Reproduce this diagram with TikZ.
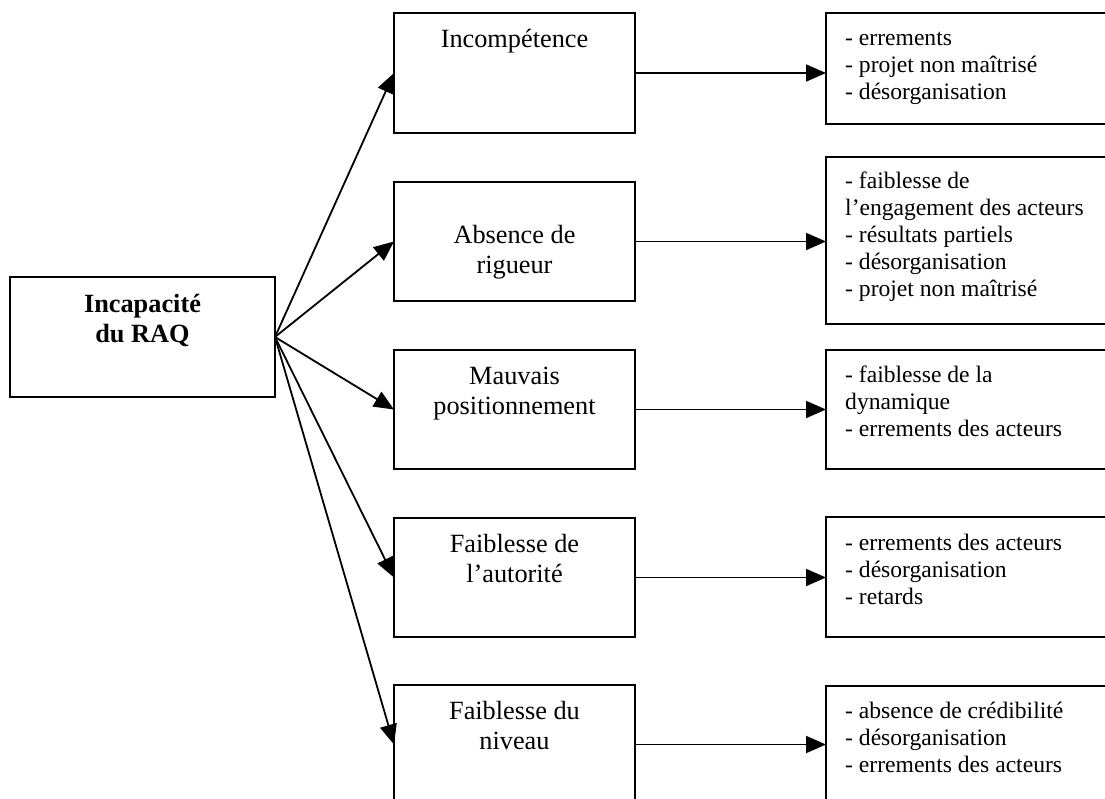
\documentclass[tikz,border=0pt]{standalone}
\usepackage{fontspec}
\setmainfont{Liberation Serif}
\usetikzlibrary{arrows.meta,fit}
% stacked lines whose baseline is the first line
\newcommand\txtlines[2][c]{\begin{tabular}[t]{@{}#1@{}}#2\end{tabular}}
\begin{document}
\begin{tikzpicture}[x=1pt,y=-1pt,
  box/.style={draw, line width=1.8pt, inner sep=0pt, outer sep=0pt},
  arr/.style={line width=1.8pt, -{Triangle[length=20pt,width=17pt]}},
  mtext/.style={anchor=base, inner sep=0pt, font=\fontsize{26.3}{30}\selectfont},
  ltext/.style={anchor=base, inner sep=0pt, font=\fontsize{26.3}{30}\selectfont\bfseries},
  rtext/.style={anchor=base west, inner sep=0pt, font=\fontsize{23.6}{27}\selectfont}]
\useasboundingbox (0,0) rectangle (1105,798);
\fill[white] (0,0) rectangle (1105,798);
\clip (0,0) rectangle (1105,798);

% root box
\node[box, fit={(10,277) (275,397)}] (L) {};
\node[ltext, yshift=-35pt] (Lt) at (L.north) {\txtlines{Incapacité\\du RAQ}};

% causes
\node[box, fit={(394,13) (635,133)}]  (m1) {};
\node[box, fit={(394,182) (635,301)}] (m2) {};
\node[box, fit={(394,350) (635,469)}] (m3) {};
\node[box, fit={(394,518) (635,637)}] (m4) {};
\node[box, fit={(394,685) (635,804)}] (m5) {};

\node[mtext, yshift=-34.5pt] (t1) at (m1.north) {\txtlines{Incompétence}};
\node[mtext, yshift=-61pt]   (t2) at (m2.north) {\txtlines{Absence de\\rigueur}};
\node[mtext, yshift=-34.5pt] (t3) at (m3.north) {\txtlines{Mauvais\\positionnement}};
\node[mtext, yshift=-34.5pt] (t4) at (m4.north) {\txtlines{Faiblesse de\\l’autorité}};
\node[mtext, yshift=-34.5pt] (t5) at (m5.north) {\txtlines{Faiblesse du\\niveau}};

% consequences
\node[box, fit={(826,13) (1200,124)}]  (r1) {};
\node[box, fit={(826,157) (1200,324)}] (r2) {};
\node[box, fit={(826,350) (1200,469)}] (r3) {};
\node[box, fit={(826,517) (1200,637)}] (r4) {};
\node[box, fit={(826,686) (1200,820)}] (r5) {};

\node[rtext, xshift=19pt, yshift=-32pt] (u1) at (r1.north west)
  {\txtlines[l]{- errements\\- projet non maîtrisé\\- désorganisation}};
\node[rtext, xshift=19pt, yshift=-31pt] (u2) at (r2.north west)
  {\txtlines[l]{- faiblesse de\\l’engagement des acteurs\\- résultats partiels\\- désorganisation\\- projet non maîtrisé}};
\node[rtext, xshift=19pt, yshift=-32pt] (u3) at (r3.north west)
  {\txtlines[l]{- faiblesse de la\\dynamique\\- errements des acteurs}};
\node[rtext, xshift=19pt, yshift=-33pt] (u4) at (r4.north west)
  {\txtlines[l]{- errements des acteurs\\- désorganisation\\- retards}};
\node[rtext, xshift=19pt, yshift=-32pt] (u5) at (r5.north west)
  {\txtlines[l]{- absence de crédibilité\\- désorganisation\\- errements des acteurs}};

% fan of arrows from the root
\foreach \m in {m1,m2,m3,m4,m5}
  \draw[arr] (L.east) -- (\m.west);

% cause to consequence
\draw[arr] (m1.east) -- (r1.west |- m1.east);
\draw[arr] (m2.east) -- (r2.west |- m2.east);
\draw[arr] (m3.east) -- (r3.west |- m3.east);
\draw[arr] (m4.east) -- (r4.west |- m4.east);
\draw[arr] (m5.east) -- (r5.west |- m5.east);
\end{tikzpicture}
\end{document}
